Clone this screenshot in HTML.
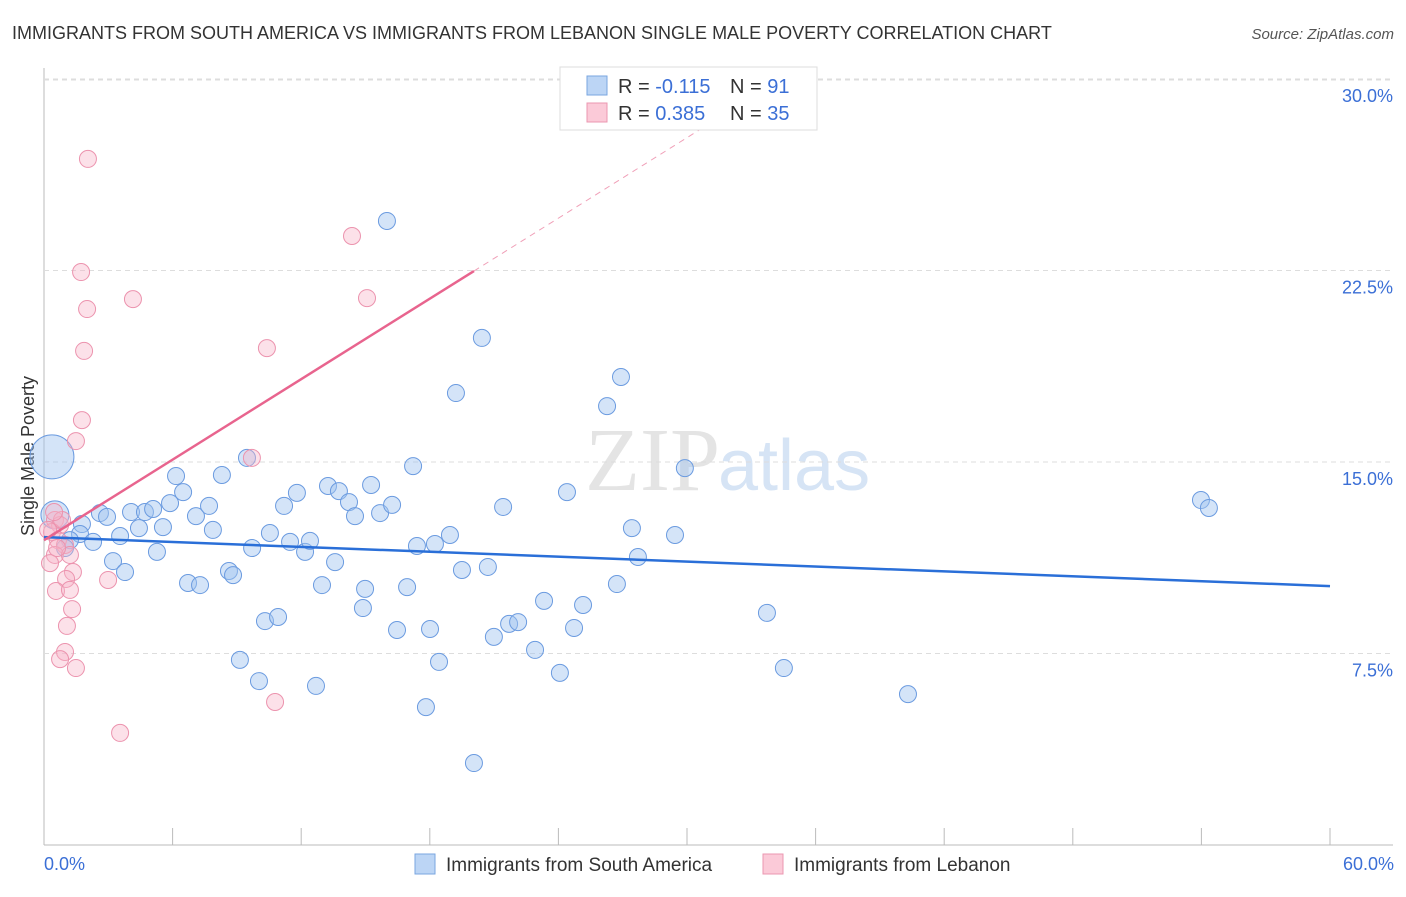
<!DOCTYPE html>
<html><head><meta charset="utf-8"><style>
body{margin:0;background:#fff;font-family:"Liberation Sans",sans-serif}
</style></head><body>
<svg id="c" width="1406" height="892" xmlns="http://www.w3.org/2000/svg" style="font-family:'Liberation Sans',sans-serif">
<text x="12" y="39" font-size="18" fill="#333">IMMIGRANTS FROM SOUTH AMERICA VS IMMIGRANTS FROM LEBANON SINGLE MALE POVERTY CORRELATION CHART</text>
<text x="1394" y="39" font-size="15" fill="#555" text-anchor="end" font-style="italic">Source: ZipAtlas.com</text>
<text x="720" y="490" font-size="90" fill="#e4e4e4" text-anchor="end" font-family="Liberation Serif">ZIP</text>
<text x="718" y="490" font-size="72" fill="#d6e4f5">atlas</text>
<text transform="translate(34,456) rotate(-90)" font-size="18" fill="#333" text-anchor="middle">Single Male Poverty</text>
<g id="grid"></g><g id="pts"></g><g id="lines"></g>
<g>
<rect x="560" y="67" width="257" height="63" fill="#fff" stroke="#ddd"/>
<rect x="587" y="76" width="20" height="19" fill="#bcd5f5" stroke="#7aa6e0"/>
<rect x="587" y="103" width="20" height="19" fill="#fbcad8" stroke="#eb97b0"/>
<text x="618" y="93" font-size="20" fill="#333">R = <tspan fill="#3b6fd6">-0.115</tspan></text>
<text x="730" y="93" font-size="20" fill="#333">N = <tspan fill="#3b6fd6"> 91</tspan></text>
<text x="618" y="120" font-size="20" fill="#333">R = <tspan fill="#3b6fd6"> 0.385</tspan></text>
<text x="730" y="120" font-size="20" fill="#333">N = <tspan fill="#3b6fd6">35</tspan></text>
</g>
<g>
<rect x="415" y="854" width="20" height="20" fill="#bcd5f5" stroke="#7aa6e0"/>
<text x="446" y="871" font-size="19" fill="#333">Immigrants from South America</text>
<rect x="763" y="854" width="20" height="20" fill="#fbcad8" stroke="#eb97b0"/>
<text x="794" y="871" font-size="19" fill="#333">Immigrants from Lebanon</text>
</g>
<text x="44" y="870" font-size="18" fill="#3b6fd6">0.0%</text>
<text x="1394" y="870" font-size="18" fill="#3b6fd6" text-anchor="end">60.0%</text>
</svg>
<script>
const yTicks=[7.5,15,22.5,30];
const xTicks=[0,6,12,18,24,30,36,42,48,54,60];
const blueX=[0.37,0.51,2.61,2.94,1.77,1.68,1.21,2.29,0.98,3.22,3.78,3.55,4.06,4.71,5.09,4.43,5.27,5.55,5.88,6.16,6.49,7.09,7.70,7.88,8.30,6.72,7.28,8.63,8.82,9.47,9.71,9.14,10.03,10.31,10.92,10.54,11.20,11.80,11.48,12.18,12.41,12.69,12.97,13.25,13.76,13.58,14.23,14.51,14.98,14.88,15.26,15.68,16.24,16.00,16.47,16.94,17.22,17.40,17.82,18.01,18.24,18.43,18.94,19.22,19.50,20.06,20.43,20.71,20.99,21.42,21.70,22.12,22.91,23.33,24.07,24.40,24.73,25.15,26.27,26.92,26.73,27.43,27.71,29.44,29.90,33.73,34.52,40.31,53.98,54.35];
const blueY=[15.20,12.93,13.00,12.85,12.57,12.18,11.94,11.87,11.63,11.12,10.69,12.10,13.04,13.04,13.16,12.41,11.48,12.45,13.39,14.45,13.82,12.88,13.28,12.34,14.49,10.26,10.18,10.73,10.57,15.16,11.63,7.25,6.42,8.77,8.93,12.22,13.28,13.79,11.87,11.48,11.91,6.23,10.18,14.06,13.86,11.08,13.43,12.88,10.03,9.28,14.10,13.00,13.32,24.44,8.42,10.10,14.84,11.71,5.40,8.46,11.79,7.17,12.14,17.70,10.77,3.21,19.86,10.89,8.15,13.24,8.66,8.73,7.64,9.56,6.74,13.82,8.50,9.40,17.19,18.33,10.22,12.41,11.28,12.14,14.76,9.09,6.93,5.91,13.51,13.20];
const pinkX=[2.05,1.73,2.01,4.15,1.87,1.77,1.49,14.37,15.07,10.40,9.70,0.51,0.75,0.37,0.65,0.98,0.51,0.28,1.21,1.35,1.03,2.99,0.56,1.21,1.31,1.07,0.98,0.75,1.49,3.55,10.78,0.84,0.19,0.61,0.47];
const pinkY=[26.87,22.44,20.99,21.38,19.35,16.64,15.82,23.85,21.42,19.46,15.16,12.73,12.53,12.26,11.94,11.75,11.36,11.04,11.36,10.69,10.42,10.38,9.95,9.99,9.24,8.58,7.56,7.28,6.93,4.39,5.60,12.73,12.34,11.63,13.04];
const blueTrend=[12.06,10.14]; // y at x=0 and x=60
const pinkTrend=[11.94,0.5254]; // intercept, slope
const NS="http://www.w3.org/2000/svg";
const X=v=>44+v/60*1286, Y=v=>845-v/7.5*191.5;
function mk(t,a,p){const e=document.createElementNS(NS,t);for(const k in a)e.setAttribute(k,a[k]);p.appendChild(e);return e;}
const grid=document.getElementById('grid');
mk('line',{x1:44,y1:68,x2:44,y2:845,stroke:'#bbb'},grid);
mk('line',{x1:44,y1:845,x2:1393,y2:845,stroke:'#bbb'},grid);
mk('line',{x1:44,y1:80,x2:1393,y2:80,stroke:'#ddd','stroke-dasharray':'5,4'},grid);
yTicks.forEach(t=>{
const l=mk('line',{x1:44,y1:Y(t),x2:1393,y2:Y(t),stroke:'#ddd','stroke-dasharray':'5,4'},grid);


const tx=mk('text',{x:1393,y:Y(t)+23,'font-size':18,fill:'#3b6fd6','text-anchor':'end'},grid);
tx.textContent=t.toFixed(1)+'%';


});
xTicks.slice(1).forEach(t=>{
const l=mk('line',{x1:X(t),y1:828,x2:X(t),y2:845,stroke:'#bbb'},grid);


});
const pts=document.getElementById('pts');
blueX.forEach((x,i)=>{
const r=i===0?22:(i===1?14:8.5);
const c=mk('circle',{cx:X(x),cy:Y(blueY[i]),r:r,fill:'rgba(160,196,240,0.45)',stroke:'#6b9be0','stroke-width':1},pts);


});
pinkX.forEach((x,i)=>{
const c=mk('circle',{cx:X(x),cy:Y(pinkY[i]),r:8.5,fill:'rgba(248,180,200,0.4)',stroke:'#ec93ae','stroke-width':1},pts);


});
const lines=document.getElementById('lines');
const bl=mk('line',{x1:X(0),y1:Y(blueTrend[0]),x2:X(60),y2:Y(blueTrend[1]),stroke:'#2a6fd8','stroke-width':2.5},lines);


const pf=x=>pinkTrend[0]+pinkTrend[1]*x;
const pl=mk('line',{x1:X(0),y1:Y(pf(0)),x2:X(20.06),y2:Y(pf(20.06)),stroke:'#e8648e','stroke-width':2.5},lines);


const pd=mk('line',{x1:X(20.06),y1:Y(pf(20.06)),x2:X(32),y2:Y(pf(32)),stroke:'#f0a0b8','stroke-width':1,'stroke-dasharray':'6,5'},lines);


</script>
</body></html>
